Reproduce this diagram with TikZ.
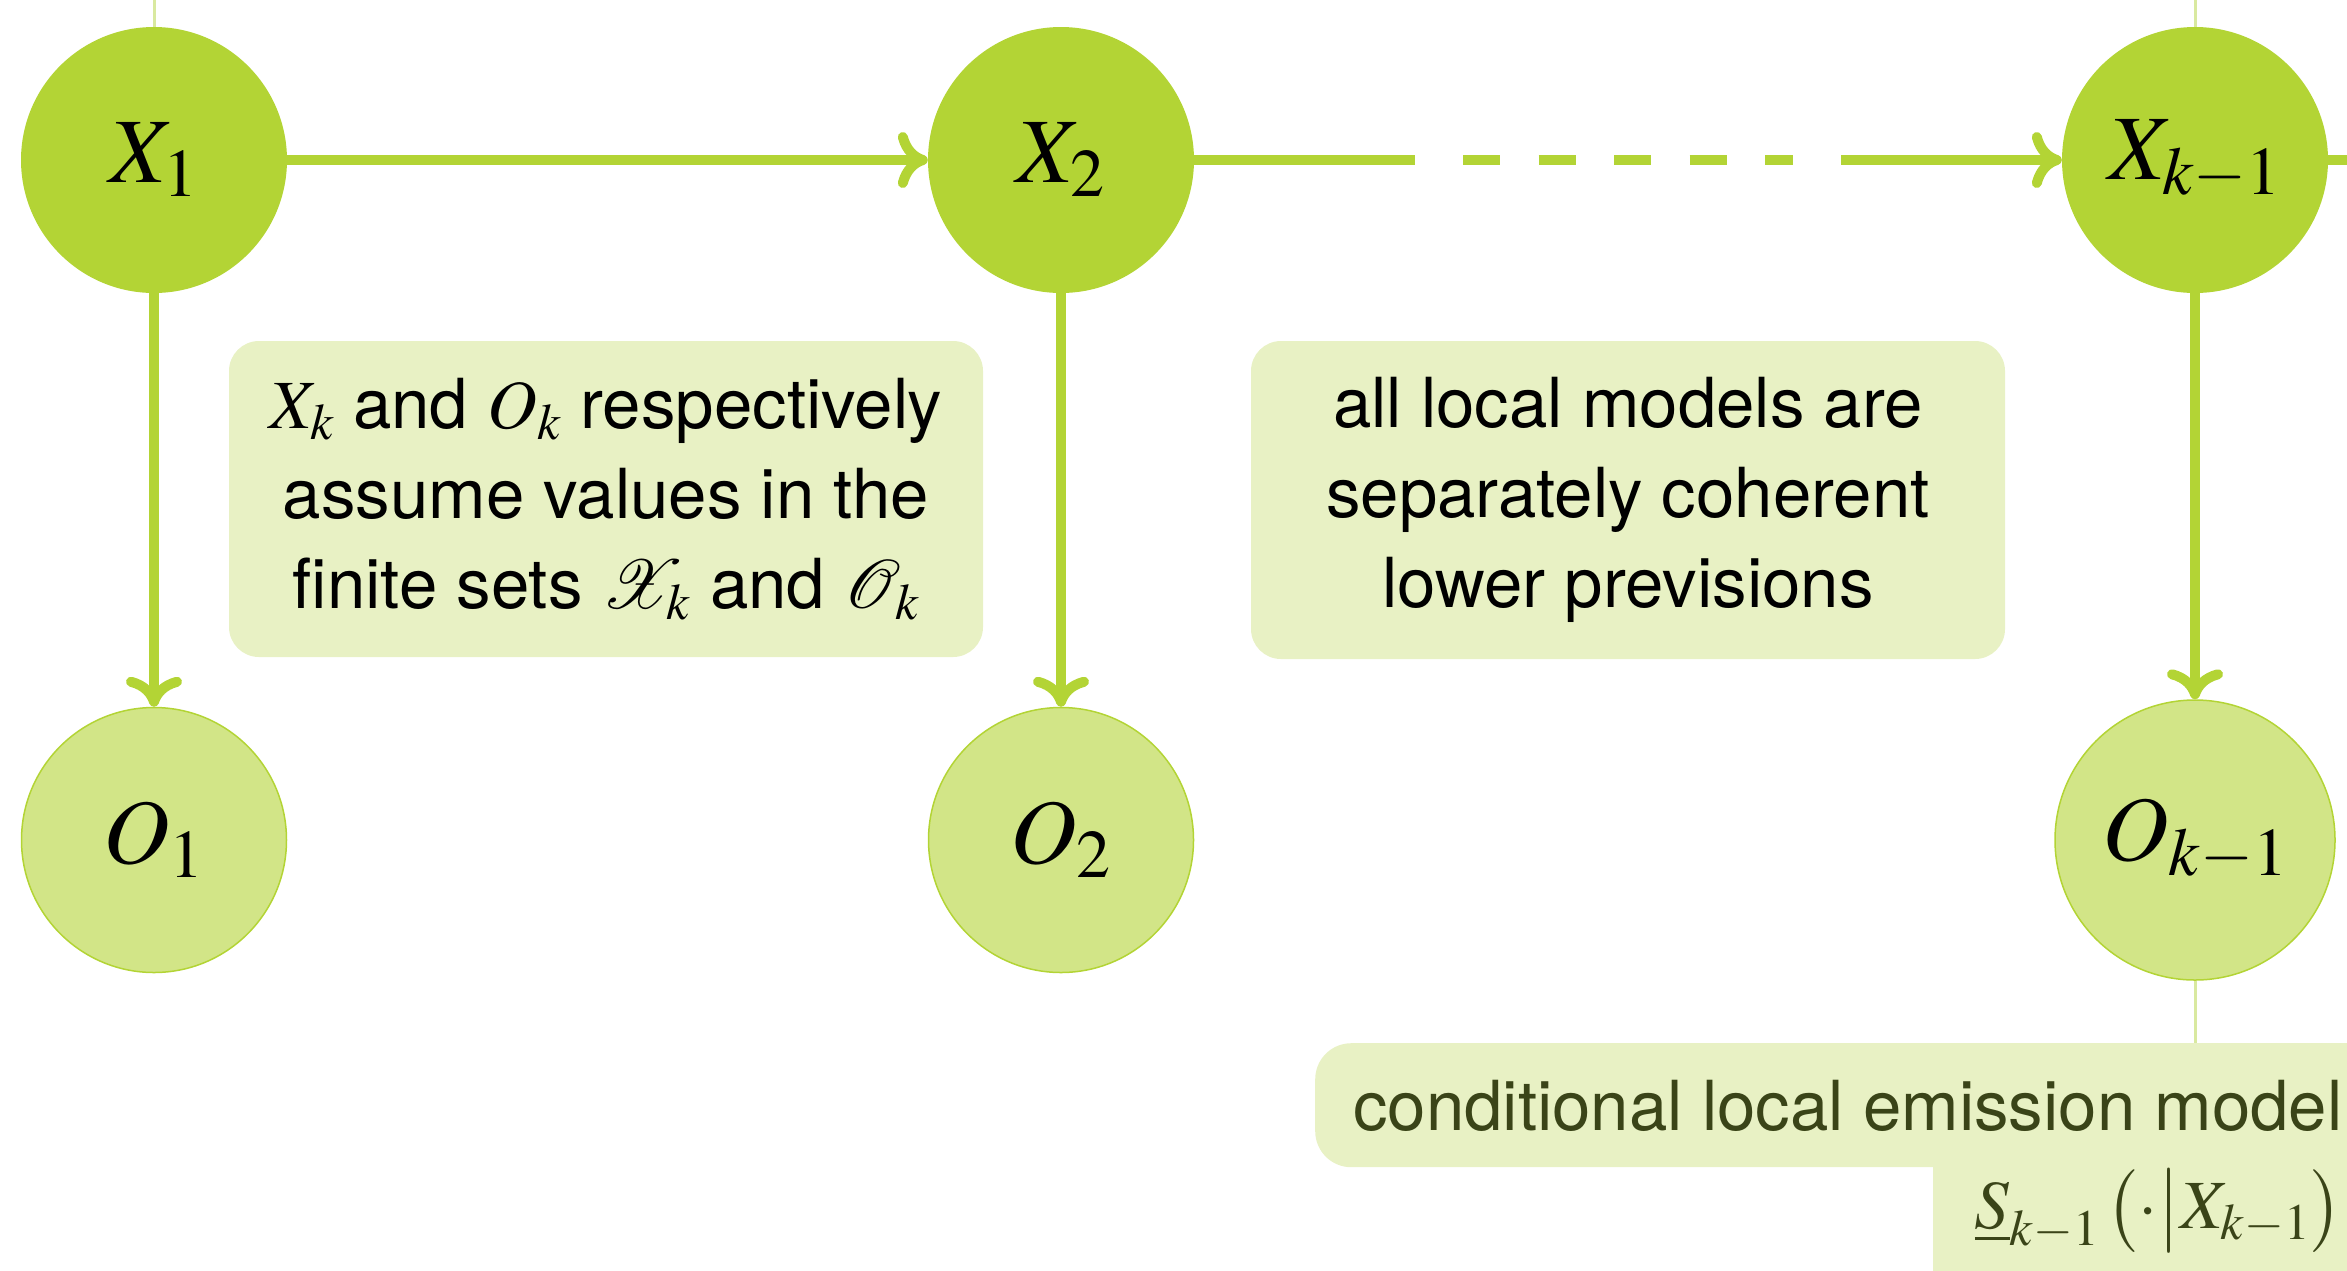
\documentclass[tikz,border=0pt]{standalone}
\usepackage{mathptmx}
\usepackage[no-math]{fontspec}
\setmainfont{TeX Gyre Heros}
\usetikzlibrary{arrows.meta}
\definecolor{xg}{HTML}{B3D435}
\definecolor{og}{HTML}{D2E587}
\definecolor{bgc}{HTML}{E8F1C4}
\definecolor{tl}{HTML}{D9E9A0}
\definecolor{dk}{HTML}{3A4418}
\tikzset{
  xnode/.style={circle, fill=xg, draw=none, minimum size=266pt, inner sep=0pt,
    font=\fontsize{92}{110}\selectfont},
  onode/.style={circle, fill=og, draw=xg, line width=1.5pt, minimum size=265pt, inner sep=0pt,
    font=\fontsize{92}{110}\selectfont},
  infobox/.style={rectangle, rounded corners=30pt, fill=bgc, draw=none, align=center,
    inner sep=0pt, font=\fontsize{69}{90}\selectfont},
  embg/.style={rectangle, rounded corners=36pt, fill=bgc, draw=none, inner sep=0pt},
  emtext/.style={inner sep=0pt, text=dk, font=\fontsize{69}{90}\selectfont},
  thickline/.style={draw=xg, line width=10pt},
  arrowline/.style={thickline, -{Computer Modern Rightarrow[length=30pt,width=56pt,round]}},
  thinline/.style={draw=tl, line width=3pt},
}
\begin{document}
\begin{tikzpicture}[x=1pt,y=-1pt]
\useasboundingbox (0,0) rectangle (2347,1270);
\clip (0,0) rectangle (2347,1270);
% info boxes
\node[infobox, minimum width=754pt, minimum height=316pt] (B1) at (606,499)
  {$X_k$ and $O_k$ respectively\\assume values in the\\finite sets $\mathcal{X}_k$ and $\mathcal{O}_k$};
\node[infobox, minimum width=754pt, minimum height=318pt] (B2) at (1628,500)
  {all local models are\\separately coherent\\lower previsions};
% emission annotation background
\node[embg, anchor=north west, minimum width=1200pt, minimum height=124pt] (E1) at (1315,1043) {};
\node[embg, anchor=north west, minimum width=600pt, minimum height=220pt] (E2) at (1933,1100) {};
\node[emtext, anchor=base west] (T1) at (1353,1130) {conditional local emission model};
\node[emtext, anchor=base east] (T2) at (2342,1228) {$\underline{S}_{k-1}\,\bigl(\cdot\big|X_{k-1}\bigr)$};
% nodes
\node[xnode] (X1) at (154,160) {$X_1$};
\node[xnode] (X2) at (1061,160) {$X_2$};
\node[xnode] (Xk) at (2195,160) {$X_{k-1}$};
\node[onode] (O1) at (154,840) {$O_1$};
\node[onode] (O2) at (1061,840) {$O_2$};
\node[onode, minimum size=280pt] (Ok) at (2195,840) {$O_{k-1}$};
% helper coordinates
\coordinate (t1) at (154,-10);
\coordinate (tk) at (2195,-10);
\coordinate (d0) at (1415,160);
\coordinate (d1) at (1463,160);
\coordinate (d2) at (1793,160);
\coordinate (d3) at (1841,160);
\coordinate (rt) at (2360,160);
% connectors
\draw[thinline] (X1) -- (t1);
\draw[thinline] (Xk) -- (tk);
\draw[thinline] (Ok) -- (Ok |- E1.north);
\draw[arrowline] (X1) -- (X2);
\draw[thickline] (X2) -- (d0);
\draw[thickline, dash pattern=on 37pt off 38.5pt] (d1) -- (d2);
\draw[arrowline] (d3) -- (Xk);
\draw[thickline] (Xk) -- (rt);
\draw[arrowline] (X1) -- (O1);
\draw[arrowline] (X2) -- (O2);
\draw[arrowline] (Xk) -- (Ok);
\end{tikzpicture}
\end{document}
